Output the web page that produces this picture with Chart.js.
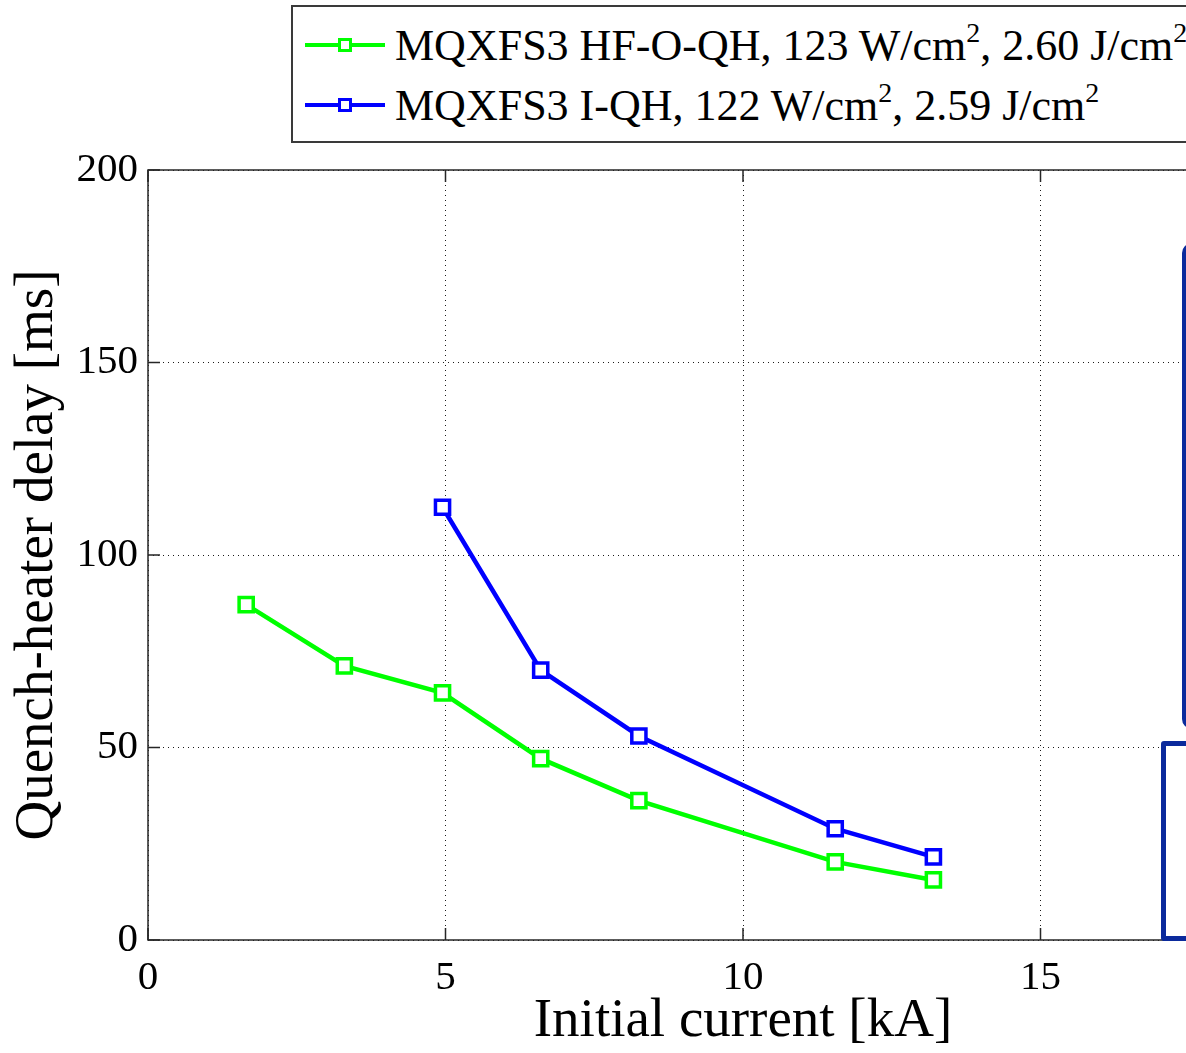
<!DOCTYPE html>
<html>
<head>
<meta charset="utf-8">
<script src="https://cdn.jsdelivr.net/npm/chart.js@4.4.0/dist/chart.umd.min.js"></script>
<style>
  html, body { margin: 0; padding: 0; overflow: hidden; background: #fff; }
  #wrap { position: absolute; left: 0; top: 0; width: 1400px; height: 1053px; }
  #legend {
    position: absolute; left: 291px; top: 5px; width: 960px; height: 134px;
    border: 2px solid #3a3a3a; background: #fff;
    font-family: 'Liberation Serif', serif; font-size: 44px; color: #000;
  }
  .row { position: absolute; left: 12px; height: 60px; display: flex; align-items: center; white-space: nowrap; }
  .key { position: relative; width: 80px; height: 60px; margin-right: 10px; flex: none; }
  .key .ln { position: absolute; left: 0; right: 0; top: 28px; height: 4px; }
  .key .mk { position: absolute; left: 33px; top: 23px; width: 8px; height: 8px; border: 3px solid; background: #fff; }
  sup { font-size: 28px; vertical-align: 0; position: relative; top: -18px; }
  .box { position: absolute; border-color: #0b2a9c; border-style: solid; background: #fff; }
</style>
</head>
<body>
<div id="wrap"><canvas id="qhChart"></canvas></div>
<div id="legend"></div>
<div class="box" style="left:1182px; top:243px; width:60px; height:478px; border-width:4px; border-radius:10px;"></div>
<div class="box" style="left:1161px; top:741px; width:60px; height:190px; border-width:5px; border-radius:3px;"></div>
<script>
// initial current [kA] and quench-heater delay [ms]
const currentHfOqh = [1.65, 3.3, 4.95, 6.6, 8.25, 11.55, 13.2];
const delayHfOqh = [87.1, 71.2, 64.2, 47.1, 36.2, 20.3, 15.6];
const currentIqh = [4.95, 6.6, 8.25, 11.55, 13.2];
const delayIqh = [112.4, 70.1, 53.0, 28.9, 21.6];
const xTicks = [0, 5, 10, 15, 20];
const yTicks = [0, 50, 100, 150, 200];
const seriesNames = [
  'MQXFS3 HF-O-QH, 123 W/cm², 2.60 J/cm²',
  'MQXFS3 I-QH, 122 W/cm², 2.59 J/cm²'
];
const seriesColors = ['#00ff00', '#0000ff'];

Chart.defaults.font.family = "'Liberation Serif', serif";
Chart.defaults.color = '#000';

function toPoints (xs, ys) {
  return xs.map((x, i) => ({ x: x, y: ys[i] }));
}

function makeDataset (label, color, points) {
  return {
    label: label,
    data: points,
    borderColor: color,
    borderWidth: 4.5,
    pointStyle: 'rect',
    pointRadius: 10,
    pointBorderWidth: 3.5,
    pointBorderColor: color,
    pointBackgroundColor: '#fff',
    tension: 0,
    fill: false
  };
}

// box round the axes plus the short inward tick marks
const axesFrame = {
  id: 'axesFrame',
  beforeDatasetsDraw (chart) {
    const { ctx, chartArea: a, scales } = chart;
    const len = 12;
    ctx.save();
    ctx.strokeStyle = '#262626';
    ctx.lineWidth = 1.5;
    ctx.beginPath();
    scales.x.ticks.forEach(t => {
      const px = scales.x.getPixelForValue(t.value);
      ctx.moveTo(px, a.bottom); ctx.lineTo(px, a.bottom - len);
      ctx.moveTo(px, a.top); ctx.lineTo(px, a.top + len);
    });
    scales.y.ticks.forEach(t => {
      const py = scales.y.getPixelForValue(t.value);
      ctx.moveTo(a.left, py); ctx.lineTo(a.left + len, py);
      ctx.moveTo(a.right, py); ctx.lineTo(a.right - len, py);
    });
    ctx.stroke();
    ctx.strokeRect(a.left, a.top, a.right - a.left, a.bottom - a.top);
    ctx.restore();
  }
};

const chart = new Chart(document.getElementById('qhChart'), {
  type: 'line',
  data: {
    datasets: [
      makeDataset(seriesNames[0], seriesColors[0], toPoints(currentHfOqh, delayHfOqh)),
      makeDataset(seriesNames[1], seriesColors[1], toPoints(currentIqh, delayIqh))
    ]
  },
  options: {
    responsive: true,
    maintainAspectRatio: false,
    animation: false,
    events: [],
    layout: { padding: { top: 170, right: 62, bottom: 0, left: 0 } },
    plugins: { legend: { display: false }, tooltip: { enabled: false } },
    scales: {
      x: {
        type: 'linear',
        min: 0,
        max: 20,
        afterBuildTicks: s => { s.ticks = xTicks.map(v => ({ value: v })); },
        afterFit: s => { s.height = 113; },
        grid: { color: '#1a1a1a', lineWidth: 1, drawTicks: false },
        border: { display: false, dash: [1, 4] },
        ticks: { font: { size: 41 }, padding: 14, maxRotation: 0 },
        title: {
          display: true,
          text: 'Initial current [kA]',
          font: { size: 55, lineHeight: 1 },
          padding: { top: 0, bottom: 4 }
        }
      },
      y: {
        min: 0,
        max: 200,
        afterBuildTicks: s => { s.ticks = yTicks.map(v => ({ value: v })); },
        afterFit: s => { s.width = 148; },
        grid: { color: '#1a1a1a', lineWidth: 1, drawTicks: false },
        border: { display: false, dash: [1, 4] },
        ticks: { font: { size: 41 }, padding: 10 },
        title: {
          display: true,
          text: 'Quench-heater delay [ms]',
          font: { size: 55, lineHeight: 1 },
          padding: { top: 10, bottom: 0 }
        }
      }
    }
  },
  plugins: [axesFrame]
});

// legend as html so the units can carry real superscripts
function buildLegend (chart) {
  const box = document.getElementById('legend');
  chart.data.datasets.forEach((ds, i) => {
    const row = document.createElement('div');
    row.className = 'row';
    row.style.top = (8 + i * 60) + 'px';
    const key = document.createElement('div');
    key.className = 'key';
    key.innerHTML = '<div class="ln"></div><div class="mk"></div>';
    key.querySelector('.ln').style.background = ds.borderColor;
    key.querySelector('.mk').style.borderColor = ds.borderColor;
    const label = document.createElement('span');
    label.innerHTML = ds.label.replace(/²/g, '<sup>2</sup>');
    row.appendChild(key);
    row.appendChild(label);
    box.appendChild(row);
  });
}

buildLegend(chart);
</script>
</body>
</html>
